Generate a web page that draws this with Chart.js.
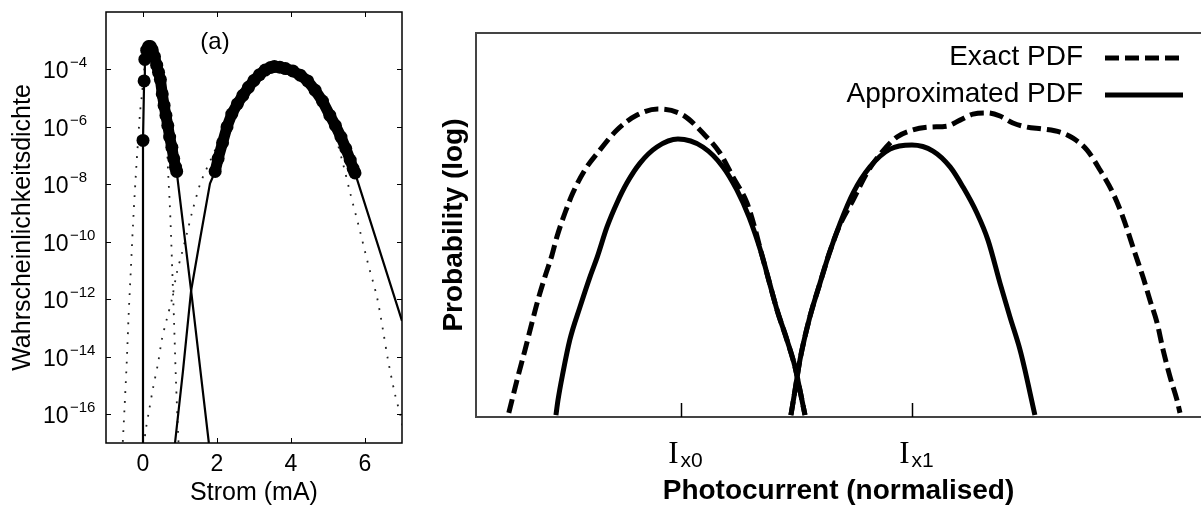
<!DOCTYPE html>
<html lang="de">
<head>
<meta charset="UTF-8">
<title>Wahrscheinlichkeitsdichte / Photocurrent PDF</title>
<script src="https://cdn.jsdelivr.net/npm/chart.js"></script>
<style>
  body { margin: 0; background: #fff; }
  #wrap { position: relative; width: 1201px; height: 511px; overflow: hidden; }
  #links { position: absolute; left: 0; top: 0; }
  #rechts { position: absolute; left: 430px; top: 0; }
</style>
</head>
<body>
<div id="wrap">
  <canvas id="links" width="420" height="511"></canvas>
  <canvas id="rechts" width="771" height="511"></canvas>
</div>

<script>
// ---------- linkes Diagramm (a) ----------
// x: Strom in mA, y: Zehnerexponent der Dichte
const stromTicks = [0, 2, 4, 6];
const dichteExp = [-16, -14, -12, -10, -8, -6, -4];

// einzelne Kreise an der steilen Flanke
const kreis1Strom = [0.00, 0.03, 0.05];
const kreis1Exp   = [-6.47, -4.40, -3.65];

// dichte Kreise, erste Spitze
const band1Strom = [0.10, 0.15, 0.20, 0.25, 0.31, 0.37, 0.42, 0.47, 0.52, 0.57, 0.62, 0.67, 0.72, 0.78, 0.83, 0.88, 0.91];
const band1Exp   = [-3.33, -3.20, -3.20, -3.32, -3.55, -3.85, -4.10, -4.35, -4.85, -5.25, -5.60, -5.95, -6.35, -6.71, -7.10, -7.40, -7.55];

// dichte Kreise, zweite Spitze
const band2Strom = [1.95, 2.03, 2.15, 2.27, 2.40, 2.55, 2.70, 2.85, 3.00, 3.15, 3.30, 3.45, 3.55, 3.70, 3.85, 4.05, 4.25, 4.45, 4.65, 4.85, 5.05, 5.20, 5.35, 5.48, 5.60, 5.68, 5.73];
const band2Exp   = [-7.55, -7.10, -6.55, -6.00, -5.55, -5.20, -4.90, -4.62, -4.38, -4.18, -4.02, -3.93, -3.90, -3.92, -3.97, -4.05, -4.20, -4.40, -4.72, -5.10, -5.60, -5.95, -6.35, -6.75, -7.15, -7.45, -7.60];

// durchgezogene Linien
const linie1Strom = [0.00, 0.00, 0.03, 0.05, 0.10, 0.20, 0.31, 0.42, 0.52, 0.62, 0.72, 0.83, 0.91, 1.30, 1.78];
const linie1Exp   = [-18.0, -6.47, -4.40, -3.65, -3.33, -3.20, -3.55, -4.10, -4.85, -5.60, -6.35, -7.10, -7.55, -11.70, -17.00];
const linie2Strom = [0.865, 1.08, 1.30, 1.55, 1.81, 1.95, 2.15, 2.40, 2.70, 3.00, 3.30, 3.55, 3.85, 4.25, 4.65, 5.05, 5.35, 5.60, 5.73, 7.00];
const linie2Exp   = [-17.0, -14.5, -11.7, -9.85, -7.97, -7.55, -6.55, -5.55, -4.90, -4.38, -4.02, -3.90, -3.97, -4.20, -4.72, -5.60, -6.35, -7.15, -7.60, -12.75];

// gepunktete Linien
const punkt1Strom = [-0.56, -0.50, -0.44, -0.39, -0.33, -0.27, -0.20, -0.14, -0.08, -0.03, 0.02, 0.10, 0.20, 0.31, 0.42, 0.52, 0.62, 0.68, 0.72, 0.75, 0.78, 0.81, 0.84, 0.89, 0.95, 0.98];
const punkt1Exp   = [-17.3, -15.8, -14.2, -12.6, -11.0, -9.4, -7.8, -6.6, -5.5, -4.9, -4.2, -3.4, -3.2, -3.55, -4.1, -4.85, -6.0, -7.6, -8.6, -9.5, -10.6, -11.7, -12.8, -14.8, -16.7, -17.5];
const punkt2Strom = [0.02, 0.08, 0.16, 0.27, 0.41, 0.51, 0.64, 0.78, 0.91, 1.05, 1.19, 1.32, 1.54, 1.65, 1.81, 1.95, 2.30, 2.70, 3.10, 3.55, 4.00, 4.50, 5.00, 5.20, 5.41, 5.60, 5.86, 6.08, 6.32, 6.49, 6.62, 6.81, 6.95, 7.05];
const punkt2Exp   = [-17.1, -16.5, -15.9, -15.1, -14.2, -13.4, -12.7, -12.0, -11.1, -10.4, -9.7, -9.0, -8.0, -7.65, -7.2, -6.8, -5.9, -4.9, -4.25, -3.95, -4.05, -4.5, -5.45, -6.3, -7.3, -8.3, -9.6, -10.75, -11.9, -13.1, -14.1, -15.3, -16.0, -16.6];

// ---------- rechtes Diagramm ----------
// x: normierter Photostrom (Ix0 = 0, Ix1 = 1), y: Zehnerexponent
const ixWerte = [0, 1];
const ixIndex = ['x0', 'x1'];

const exakt1X = [-0.745, -0.706, -0.675, -0.645, -0.619, -0.589, -0.558, -0.537, -0.502, -0.468, -0.416, -0.351, -0.277, -0.190, -0.100, 0.009, 0.095, 0.169, 0.225, 0.286, 0.320, 0.348, 0.380, 0.416, 0.459, 0.494, 0.515, 0.537];
const exakt1L = [-15.83, -14.33, -13.21, -12.08, -11.13, -10.17, -9.25, -8.50, -7.50, -6.67, -5.71, -4.88, -4.04, -3.42, -3.17, -3.42, -4.17, -5.00, -6.00, -7.08, -8.13, -9.17, -10.29, -11.54, -12.79, -13.92, -14.88, -15.92];
const exakt2X = [0.476, 0.494, 0.515, 0.558, 0.602, 0.641, 0.688, 0.745, 0.805, 0.870, 0.935, 1.004, 1.078, 1.152, 1.208, 1.264, 1.325, 1.381, 1.437, 1.498, 1.567, 1.641, 1.697, 1.758, 1.814, 1.870, 1.913, 1.965, 2.000, 2.030, 2.061, 2.087, 2.117, 2.147, 2.160];
const exakt2L = [-15.92, -14.88, -13.63, -11.83, -10.42, -9.21, -8.00, -6.96, -5.83, -4.96, -4.33, -4.04, -3.92, -3.88, -3.63, -3.38, -3.33, -3.46, -3.75, -3.92, -4.00, -4.13, -4.38, -4.88, -5.71, -6.67, -7.67, -9.17, -10.17, -11.13, -12.08, -13.21, -14.33, -15.29, -15.83];

const naeh1X = [-0.541, -0.532, -0.511, -0.481, -0.437, -0.394, -0.362, -0.320, -0.277, -0.234, -0.177, -0.104, -0.013, 0.095, 0.182, 0.242, 0.295, 0.348, 0.380, 0.416, 0.459, 0.494, 0.515, 0.537];
const naeh1L = [-15.92, -15.29, -14.17, -12.79, -11.42, -10.17, -9.33, -8.08, -7.08, -6.25, -5.42, -4.75, -4.42, -4.75, -5.58, -6.54, -7.67, -9.17, -10.29, -11.54, -12.79, -13.92, -14.88, -15.92];
const naeh2X = [0.476, 0.494, 0.515, 0.558, 0.602, 0.641, 0.688, 0.745, 0.818, 0.905, 1.000, 1.091, 1.165, 1.221, 1.281, 1.329, 1.381, 1.424, 1.468, 1.489, 1.511, 1.532];
const naeh2L = [-15.92, -14.88, -13.63, -11.83, -10.42, -9.21, -7.95, -6.67, -5.58, -4.84, -4.67, -4.92, -5.58, -6.42, -7.50, -8.63, -10.42, -11.83, -13.21, -14.04, -15.00, -15.92];

Chart.defaults.font.family = '"Liberation Sans", Arial, Helvetica, sans-serif';
Chart.defaults.color = '#000';

// Punkte aus x-Werten und Zehnerexponenten
function pts(xs, es) {
  return xs.map((x, i) => ({ x: x, y: Math.pow(10, es[i]) }));
}

// Rahmen, Ticks nach innen und Beschriftung 10^n (links)
const achsenLinks = {
  id: 'achsenLinks',
  afterDraw(chart) {
    const { ctx, chartArea: a, scales: { x, y } } = chart;
    ctx.save();
    ctx.strokeStyle = '#000';
    ctx.lineWidth = 1.5;
    ctx.strokeRect(a.left, a.top, a.right - a.left, a.bottom - a.top);
    ctx.lineWidth = 1;
    ctx.beginPath();
    x.ticks.forEach(t => {
      const px = Math.round(x.getPixelForValue(t.value)) + 0.5;
      ctx.moveTo(px, a.bottom); ctx.lineTo(px, a.bottom - 5);
      ctx.moveTo(px, a.top); ctx.lineTo(px, a.top + 5);
    });
    y.ticks.forEach(t => {
      const py = Math.round(y.getPixelForValue(t.value)) + 0.5;
      ctx.moveTo(a.left, py); ctx.lineTo(a.left + 5, py);
      ctx.moveTo(a.right, py); ctx.lineTo(a.right - 5, py);
    });
    ctx.stroke();

    ctx.fillStyle = '#000';
    ctx.textAlign = 'left';
    ctx.textBaseline = 'alphabetic';
    y.ticks.forEach(t => {
      const py = y.getPixelForValue(t.value);
      const e = Math.round(Math.log10(t.value));
      ctx.font = '23px "Liberation Sans", Arial, sans-serif';
      ctx.fillText('10', 43, py + 9);
      ctx.font = '15px "Liberation Sans", Arial, sans-serif';
      ctx.fillText('\u2212' + Math.abs(e), 70, py - 2);
    });

    ctx.font = '24px "Liberation Sans", Arial, sans-serif';
    ctx.textAlign = 'center';
    ctx.textBaseline = 'middle';
    ctx.fillText('(a)', 215, 42);
    ctx.restore();
  }
};

// Rahmen, Ix-Ticks und Legende (rechts)
const rahmenRechts = {
  id: 'rahmenRechts',
  afterDraw(chart) {
    const { ctx, chartArea: a, scales: { x } } = chart;
    ctx.save();
    ctx.strokeStyle = '#444';
    ctx.lineWidth = 2;
    ctx.beginPath();
    ctx.moveTo(a.right + 2, a.top);
    ctx.lineTo(a.left, a.top);
    ctx.lineTo(a.left, a.bottom);
    ctx.lineTo(a.right + 2, a.bottom);
    ctx.stroke();

    ctx.strokeStyle = '#000';
    ctx.lineWidth = 1.5;
    ctx.fillStyle = '#000';
    ctx.textBaseline = 'alphabetic';
    x.ticks.forEach((t, i) => {
      const px = Math.round(x.getPixelForValue(t.value)) + 0.5;
      ctx.beginPath();
      ctx.moveTo(px, a.bottom);
      ctx.lineTo(px, a.bottom - 14);
      ctx.stroke();
      ctx.font = '31px "Liberation Serif", "Times New Roman", serif';
      ctx.textAlign = 'right';
      ctx.fillText('I', px - 3, a.bottom + 46);
      ctx.font = '21px "Liberation Sans", Arial, sans-serif';
      ctx.textAlign = 'left';
      ctx.fillText(ixIndex[i], px - 1, a.bottom + 50);
    });

    // Legende oben rechts im Diagramm
    ctx.font = '28px "Liberation Sans", Arial, sans-serif';
    chart.data.datasets.forEach((ds, i) => {
      const yb = a.top + 32 + i * 37;
      ctx.textAlign = 'right';
      ctx.fillText(ds.label, a.right - 118, yb);
      ctx.lineWidth = ds.borderWidth;
      ctx.strokeStyle = ds.borderColor;
      ctx.setLineDash(ds.borderDash || []);
      ctx.beginPath();
      ctx.moveTo(a.right - 96, yb - 7);
      ctx.lineTo(a.right - 18, yb - 7);
      ctx.stroke();
    });
    ctx.restore();
  }
};

const linienStil = { borderColor: '#000', borderWidth: 2.2, pointRadius: 0, tension: 0, order: 1 };
const punktStil = { borderColor: '#222', borderWidth: 1.8, borderDash: [1.8, 8], pointRadius: 0, tension: 0.3, order: 2 };
const kreisStil = { showLine: false, pointRadius: 6.5, pointHoverRadius: 6.5, pointBackgroundColor: '#000', pointBorderColor: '#000', pointBorderWidth: 0, borderColor: '#000', order: 0 };
const bandStil = Object.assign({}, kreisStil, { showLine: true, borderWidth: 11, borderJoinStyle: 'round', borderCapStyle: 'round', tension: 0 });

new Chart(document.getElementById('links'), {
  type: 'line',
  data: {
    datasets: [
      Object.assign({ label: 'Kreise 1', data: pts(kreis1Strom, kreis1Exp) }, kreisStil),
      Object.assign({ label: 'Band 1', data: pts(band1Strom, band1Exp) }, bandStil),
      Object.assign({ label: 'Band 2', data: pts(band2Strom, band2Exp) }, bandStil),
      Object.assign({ label: 'Linie 1', data: pts(linie1Strom, linie1Exp) }, linienStil),
      Object.assign({ label: 'Linie 2', data: pts(linie2Strom, linie2Exp) }, linienStil),
      Object.assign({ label: 'Punkte 1', data: pts(punkt1Strom, punkt1Exp) }, punktStil),
      Object.assign({ label: 'Punkte 2', data: pts(punkt2Strom, punkt2Exp) }, punktStil)
    ]
  },
  options: {
    responsive: false,
    animation: false,
    layout: { padding: { left: 0, right: 18, top: 12, bottom: 0 } },
    plugins: { legend: { display: false }, tooltip: { enabled: false } },
    scales: {
      x: {
        type: 'linear', min: -1, max: 7,
        afterBuildTicks: s => { s.ticks = stromTicks.map(v => ({ value: v })); },
        afterFit: s => { s.height = 68; },
        grid: { display: false, drawTicks: false },
        border: { display: false },
        ticks: { color: '#000', font: { size: 23 }, padding: 8, maxRotation: 0 },
        title: { display: true, text: 'Strom (mA)', color: '#000', font: { size: 25 }, padding: { top: 0, bottom: 3 } }
      },
      y: {
        type: 'logarithmic', min: 1e-17, max: 1e-2,
        afterBuildTicks: s => { s.ticks = dichteExp.map(e => ({ value: Math.pow(10, e) })); },
        afterFit: s => { s.width = 106; },
        grid: { display: false, drawTicks: false },
        border: { display: false },
        ticks: { display: false },
        title: { display: true, text: 'Wahrscheinlichkeitsdichte', color: '#000', font: { size: 25 }, padding: { top: 8, bottom: 0 } }
      }
    }
  },
  plugins: [achsenLinks]
});

const luecke = { x: 0.5, y: null };

new Chart(document.getElementById('rechts'), {
  type: 'line',
  data: {
    datasets: [
      {
        label: 'Exact PDF',
        data: pts(exakt1X, exakt1L).concat([luecke], pts(exakt2X, exakt2L)),
        borderColor: '#000', borderWidth: 5, borderDash: [14, 6],
        pointRadius: 0, cubicInterpolationMode: 'monotone', spanGaps: false, order: 1
      },
      {
        label: 'Approximated PDF',
        data: pts(naeh1X, naeh1L).concat([luecke], pts(naeh2X, naeh2L)),
        borderColor: '#000', borderWidth: 5,
        pointRadius: 0, cubicInterpolationMode: 'monotone', spanGaps: false, order: 0
      }
    ]
  },
  options: {
    responsive: false,
    animation: false,
    layout: { padding: { left: 0, right: 0, top: 33, bottom: 0 } },
    plugins: { legend: { display: false }, tooltip: { enabled: false } },
    scales: {
      x: {
        type: 'linear', min: -0.887, max: 2.251,
        afterBuildTicks: s => { s.ticks = ixWerte.map(v => ({ value: v })); },
        afterFit: s => { s.height = 94; },
        grid: { display: false, drawTicks: false },
        border: { display: false },
        ticks: { display: false },
        title: { display: true, text: 'Photocurrent (normalised)', color: '#000', font: { size: 28, weight: 'bold' }, padding: { top: 0, bottom: 3 } }
      },
      y: {
        type: 'logarithmic', min: 1e-16, max: 1,
        afterFit: s => { s.width = 46; },
        grid: { display: false, drawTicks: false },
        border: { display: false },
        ticks: { display: false },
        title: { display: true, text: 'Probability (log)', color: '#000', font: { size: 28, weight: 'bold' }, padding: { top: 7, bottom: 0 } }
      }
    }
  },
  plugins: [rahmenRechts]
});
</script>
</body>
</html>
